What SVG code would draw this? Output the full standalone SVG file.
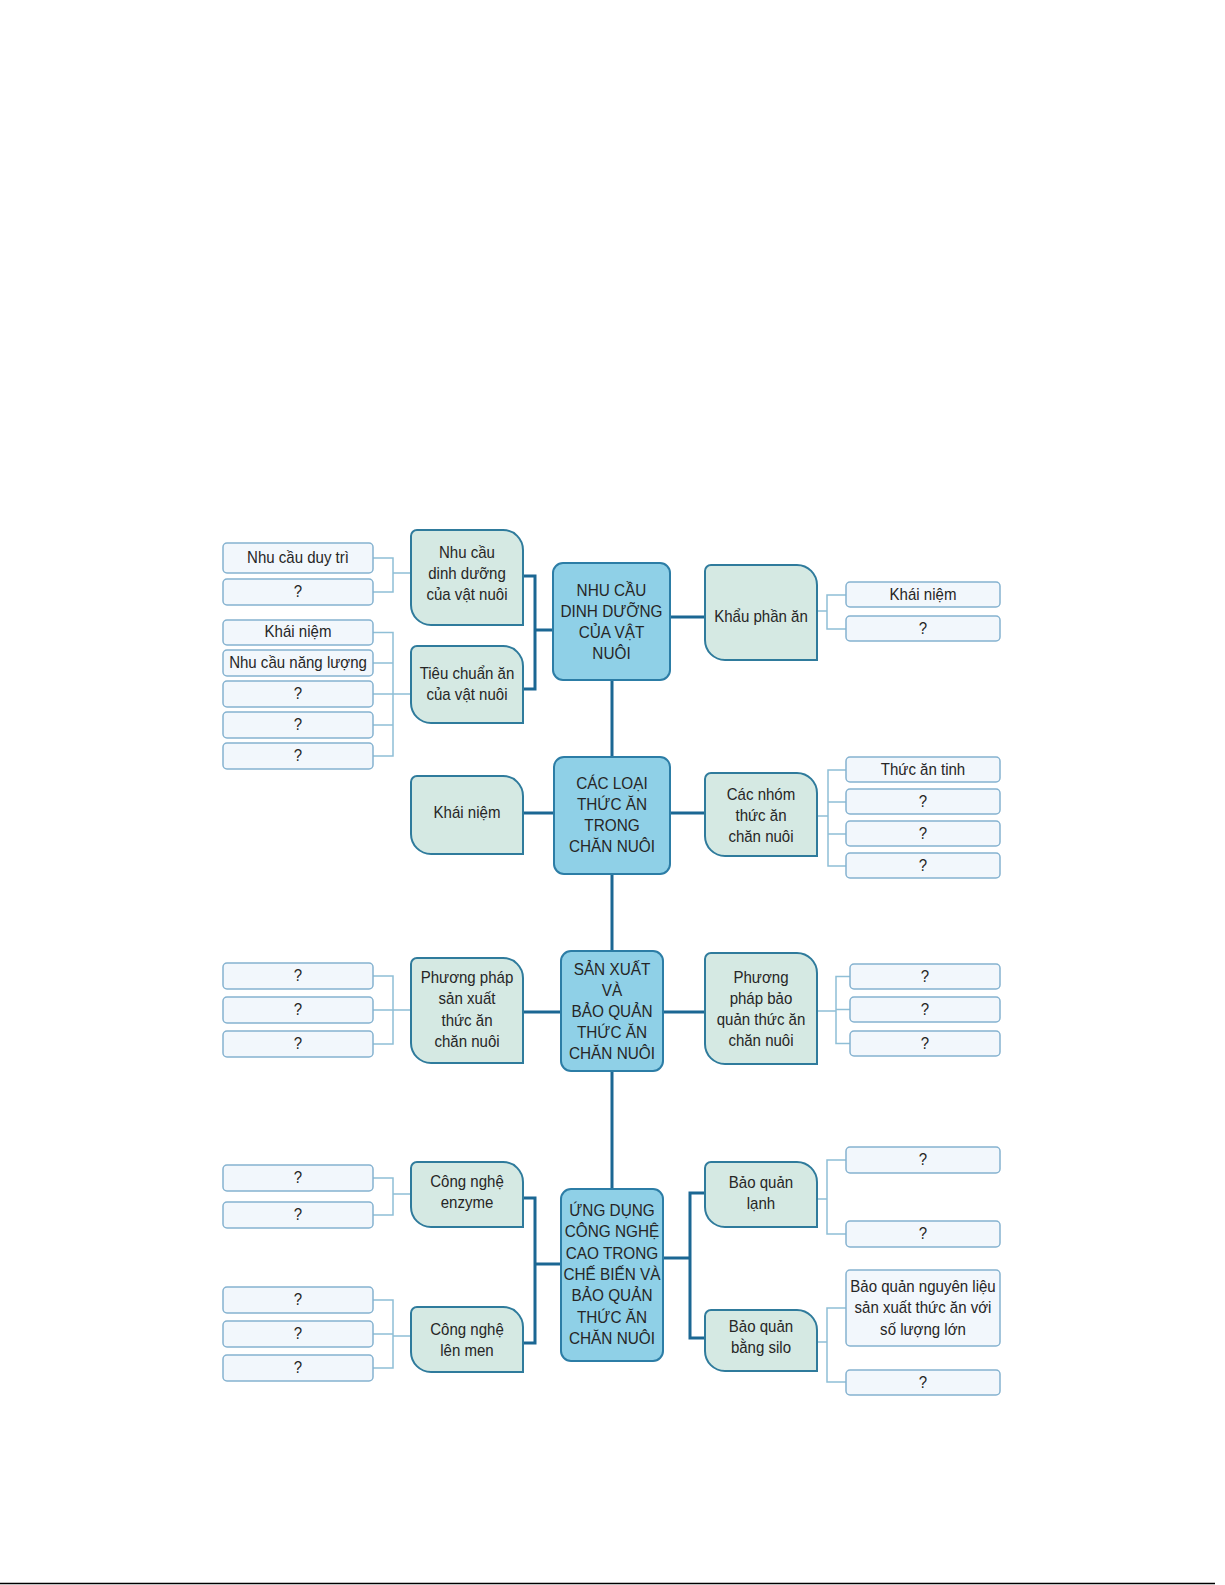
<svg xmlns="http://www.w3.org/2000/svg" width="1225" height="1585" viewBox="0 0 1225 1585">
<style>
.bg{fill:#ffffff}
.blue{fill:#8fd0e7;stroke:#2c7da6;stroke-width:2}
.green{fill:#d5e9e3;stroke:#2f7b9c;stroke-width:2}
.box{fill:#f2f7fc;stroke:#85b2d0;stroke-width:1.5}
.dark{fill:none;stroke:#1b6793;stroke-width:3}
.light{fill:none;stroke:#8fbfd6;stroke-width:1.5}
text{font-family:"Liberation Sans",Arial,sans-serif;fill:#262626;text-anchor:middle;transform-box:fill-box;transform-origin:center}
.t{font-size:16px;transform:scaleX(0.94)}
.c{font-size:16.5px;transform:scaleX(0.93)}
</style>
<rect class="bg" x="0" y="0" width="1225" height="1585"/>
<line x1="0" y1="1583.5" x2="1215" y2="1583.5" stroke="#000" stroke-width="1.5"/>

<g id="connectors">
  <!-- dark connectors -->
  <path class="dark" d="M523,576 H535 V689 H523 M535,630 H553"/>
  <path class="dark" d="M670,617 H705"/>
  <path class="dark" d="M612,680 V757 M612,874 V951 M612,1071 V1189"/>
  <path class="dark" d="M523,813 H554 M670,813 H705"/>
  <path class="dark" d="M523,1012 H561 M663,1012 H705"/>
  <path class="dark" d="M523,1198 H535 V1343 H523 M535,1264 H561"/>
  <path class="dark" d="M663,1258 H690 M705,1193 H690 V1338 H705"/>
  <!-- light connectors left -->
  <path class="light" d="M373,558 H393 V592 H373 M393,573 H411"/>
  <path class="light" d="M373,632.5 H393 V756 H373 M373,663 H393 M373,694 H411 M373,725 H393"/>
  <path class="light" d="M373,976 H393 V1044 H373 M373,1010 H411"/>
  <path class="light" d="M373,1178 H393 V1215 H373 M393,1194 H411"/>
  <path class="light" d="M373,1300 H393 V1368 H373 M373,1334 H393 M393,1336 H411"/>
  <!-- light connectors right -->
  <path class="light" d="M817,611 H827 M846,595 H827 V629 H846"/>
  <path class="light" d="M817,816 H828 M846,770 H828 V866 H846 M828,802 H846 M828,834 H846"/>
  <path class="light" d="M817,1011 H836 M850,976.5 H836 V1043.5 H850 M836,1009.5 H850"/>
  <path class="light" d="M817,1199 H827 M846,1160 H827 V1234 H846"/>
  <path class="light" d="M817,1342 H827 M846,1308 H827 V1382 H846"/>
</g>

<!-- central blue nodes -->
<g id="n-nhu-cau">
  <rect class="blue" x="553" y="563" width="117" height="117" rx="10"/>
  <text class="c" x="611.5" y="596">NHU CẦU</text>
  <text class="c" x="611.5" y="617">DINH DƯỠNG</text>
  <text class="c" x="611.5" y="638">CỦA VẬT</text>
  <text class="c" x="611.5" y="659">NUÔI</text>
</g>
<g id="n-cac-loai">
  <rect class="blue" x="554" y="757" width="116" height="117" rx="10"/>
  <text class="c" x="612" y="789">CÁC LOẠI</text>
  <text class="c" x="612" y="810">THỨC ĂN</text>
  <text class="c" x="612" y="831">TRONG</text>
  <text class="c" x="612" y="852">CHĂN NUÔI</text>
</g>
<g id="n-san-xuat">
  <rect class="blue" x="561" y="951" width="102" height="120" rx="10"/>
  <text class="c" x="612" y="975">SẢN XUẤT</text>
  <text class="c" x="612" y="996">VÀ</text>
  <text class="c" x="612" y="1017">BẢO QUẢN</text>
  <text class="c" x="612" y="1038">THỨC ĂN</text>
  <text class="c" x="612" y="1059">CHĂN NUÔI</text>
</g>
<g id="n-ung-dung">
  <rect class="blue" x="561" y="1189" width="102" height="172" rx="10"/>
  <text class="c" x="612" y="1216">ỨNG DỤNG</text>
  <text class="c" x="612" y="1237">CÔNG NGHỆ</text>
  <text class="c" x="612" y="1259">CAO TRONG</text>
  <text class="c" x="612" y="1280">CHẾ BIẾN VÀ</text>
  <text class="c" x="612" y="1301">BẢO QUẢN</text>
  <text class="c" x="612" y="1323">THỨC ĂN</text>
  <text class="c" x="612" y="1344">CHĂN NUÔI</text>
</g>

<!-- green nodes -->
<g id="g-nhu-cau-dd">
  <path class="green" d="M417,530 H503 A20,20 0 0 1 523,550 V625 H431 A20,20 0 0 1 411,605 V536 A6,6 0 0 1 417,530 Z"/>
  <text class="t" x="467" y="558">Nhu cầu</text>
  <text class="t" x="467" y="579">dinh dưỡng</text>
  <text class="t" x="467" y="600">của vật nuôi</text>
</g>
<g id="g-tieu-chuan">
  <path class="green" d="M417,646 H503 A20,20 0 0 1 523,666 V723 H431 A20,20 0 0 1 411,703 V652 A6,6 0 0 1 417,646 Z"/>
  <text class="t" x="467" y="679">Tiêu chuẩn ăn</text>
  <text class="t" x="467" y="700">của vật nuôi</text>
</g>
<g id="g-khau-phan">
  <path class="green" d="M711,565 H797 A20,20 0 0 1 817,585 V660 H725 A20,20 0 0 1 705,640 V571 A6,6 0 0 1 711,565 Z"/>
  <text class="t" x="761" y="622">Khẩu phần ăn</text>
</g>
<g id="g-khai-niem">
  <path class="green" d="M417,776 H503 A20,20 0 0 1 523,796 V854 H431 A20,20 0 0 1 411,834 V782 A6,6 0 0 1 417,776 Z"/>
  <text class="t" x="467" y="818">Khái niệm</text>
</g>
<g id="g-cac-nhom">
  <path class="green" d="M711,773 H797 A20,20 0 0 1 817,793 V856 H725 A20,20 0 0 1 705,836 V779 A6,6 0 0 1 711,773 Z"/>
  <text class="t" x="761" y="800">Các nhóm</text>
  <text class="t" x="761" y="821">thức ăn</text>
  <text class="t" x="761" y="842">chăn nuôi</text>
</g>
<g id="g-pp-san-xuat">
  <path class="green" d="M417,958 H503 A20,20 0 0 1 523,978 V1063 H431 A20,20 0 0 1 411,1043 V964 A6,6 0 0 1 417,958 Z"/>
  <text class="t" x="467" y="983">Phương pháp</text>
  <text class="t" x="467" y="1004">sản xuất</text>
  <text class="t" x="467" y="1026">thức ăn</text>
  <text class="t" x="467" y="1047">chăn nuôi</text>
</g>
<g id="g-pp-bao-quan">
  <path class="green" d="M711,953 H797 A20,20 0 0 1 817,973 V1064 H725 A20,20 0 0 1 705,1044 V959 A6,6 0 0 1 711,953 Z"/>
  <text class="t" x="761" y="983">Phương</text>
  <text class="t" x="761" y="1004">pháp bảo</text>
  <text class="t" x="761" y="1025">quản thức ăn</text>
  <text class="t" x="761" y="1046">chăn nuôi</text>
</g>
<g id="g-enzyme">
  <path class="green" d="M417,1162 H503 A20,20 0 0 1 523,1182 V1227 H431 A20,20 0 0 1 411,1207 V1168 A6,6 0 0 1 417,1162 Z"/>
  <text class="t" x="467" y="1187">Công nghệ</text>
  <text class="t" x="467" y="1208">enzyme</text>
</g>
<g id="g-len-men">
  <path class="green" d="M417,1307 H503 A20,20 0 0 1 523,1327 V1372 H431 A20,20 0 0 1 411,1352 V1313 A6,6 0 0 1 417,1307 Z"/>
  <text class="t" x="467" y="1335">Công nghệ</text>
  <text class="t" x="467" y="1356">lên men</text>
</g>
<g id="g-lanh">
  <path class="green" d="M711,1162 H797 A20,20 0 0 1 817,1182 V1227 H725 A20,20 0 0 1 705,1207 V1168 A6,6 0 0 1 711,1162 Z"/>
  <text class="t" x="761" y="1188">Bảo quản</text>
  <text class="t" x="761" y="1209">lạnh</text>
</g>
<g id="g-silo">
  <path class="green" d="M711,1310 H797 A20,20 0 0 1 817,1330 V1371 H725 A20,20 0 0 1 705,1351 V1316 A6,6 0 0 1 711,1310 Z"/>
  <text class="t" x="761" y="1332">Bảo quản</text>
  <text class="t" x="761" y="1353">bằng silo</text>
</g>

<!-- left leaf boxes -->
<g id="l1"><rect class="box" x="223" y="543" width="150" height="30" rx="4"/><text class="t" x="298" y="563">Nhu cầu duy trì</text></g>
<g id="l2"><rect class="box" x="223" y="579" width="150" height="26" rx="4"/><text class="t" x="298" y="597">?</text></g>
<g id="l3"><rect class="box" x="223" y="620" width="150" height="25" rx="4"/><text class="t" x="298" y="637.5">Khái niệm</text></g>
<g id="l4"><rect class="box" x="223" y="650" width="150" height="26" rx="4"/><text class="t" x="298" y="668">Nhu cầu năng lượng</text></g>
<g id="l5"><rect class="box" x="223" y="681" width="150" height="26" rx="4"/><text class="t" x="298" y="699">?</text></g>
<g id="l6"><rect class="box" x="223" y="712" width="150" height="26" rx="4"/><text class="t" x="298" y="730">?</text></g>
<g id="l7"><rect class="box" x="223" y="743" width="150" height="26" rx="4"/><text class="t" x="298" y="761">?</text></g>
<g id="l8"><rect class="box" x="223" y="963" width="150" height="26" rx="4"/><text class="t" x="298" y="981">?</text></g>
<g id="l9"><rect class="box" x="223" y="997" width="150" height="26" rx="4"/><text class="t" x="298" y="1015">?</text></g>
<g id="l10"><rect class="box" x="223" y="1031" width="150" height="26" rx="4"/><text class="t" x="298" y="1049">?</text></g>
<g id="l11"><rect class="box" x="223" y="1165" width="150" height="26" rx="4"/><text class="t" x="298" y="1183">?</text></g>
<g id="l12"><rect class="box" x="223" y="1202" width="150" height="26" rx="4"/><text class="t" x="298" y="1220">?</text></g>
<g id="l13"><rect class="box" x="223" y="1287" width="150" height="26" rx="4"/><text class="t" x="298" y="1305">?</text></g>
<g id="l14"><rect class="box" x="223" y="1321" width="150" height="26" rx="4"/><text class="t" x="298" y="1339">?</text></g>
<g id="l15"><rect class="box" x="223" y="1355" width="150" height="26" rx="4"/><text class="t" x="298" y="1373">?</text></g>

<!-- right leaf boxes -->
<g id="r1"><rect class="box" x="846" y="582" width="154" height="25" rx="4"/><text class="t" x="923" y="600">Khái niệm</text></g>
<g id="r2"><rect class="box" x="846" y="616" width="154" height="25" rx="4"/><text class="t" x="923" y="634">?</text></g>
<g id="r3"><rect class="box" x="846" y="757" width="154" height="25" rx="4"/><text class="t" x="923" y="775">Thức ăn tinh</text></g>
<g id="r4"><rect class="box" x="846" y="789" width="154" height="25" rx="4"/><text class="t" x="923" y="807">?</text></g>
<g id="r5"><rect class="box" x="846" y="821" width="154" height="25" rx="4"/><text class="t" x="923" y="839">?</text></g>
<g id="r6"><rect class="box" x="846" y="853" width="154" height="25" rx="4"/><text class="t" x="923" y="871">?</text></g>
<g id="r7"><rect class="box" x="850" y="964" width="150" height="25" rx="4"/><text class="t" x="925" y="982">?</text></g>
<g id="r8"><rect class="box" x="850" y="997" width="150" height="25" rx="4"/><text class="t" x="925" y="1015">?</text></g>
<g id="r9"><rect class="box" x="850" y="1031" width="150" height="25" rx="4"/><text class="t" x="925" y="1049">?</text></g>
<g id="r10"><rect class="box" x="846" y="1147" width="154" height="26" rx="4"/><text class="t" x="923" y="1165">?</text></g>
<g id="r11"><rect class="box" x="846" y="1221" width="154" height="26" rx="4"/><text class="t" x="923" y="1239">?</text></g>
<g id="r12"><rect class="box" x="846" y="1270" width="154" height="76" rx="4"/>
  <text class="t" x="923" y="1292">Bảo quản nguyên liệu</text>
  <text class="t" x="923" y="1313">sản xuất thức ăn với</text>
  <text class="t" x="923" y="1335">số lượng lớn</text>
</g>
<g id="r13"><rect class="box" x="846" y="1370" width="154" height="25" rx="4"/><text class="t" x="923" y="1388">?</text></g>
</svg>
